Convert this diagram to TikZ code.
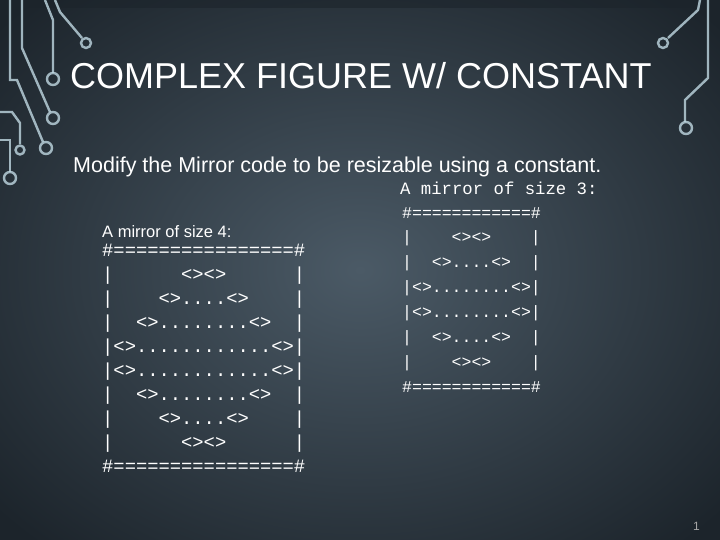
\documentclass[tikz,border=0pt]{standalone}
\usepackage{fontspec}
\setmainfont{Liberation Sans}
\setmonofont{Liberation Mono}
\begin{document}
\begin{tikzpicture}[x=1pt,y=-1pt,
  wire/.style={draw=gray!60!cyan!40!white, line width=2.4pt, opacity=.8},
  pad/.style={draw=gray!60!cyan!40!white, line width=2.4pt, opacity=.8},
  txt/.style={text=white, inner sep=0pt, anchor=base west}]
\useasboundingbox (0,0) rectangle (720,540);
\definecolor{bgc}{HTML}{4B5A66}
\definecolor{bge}{HTML}{1C242B}
\fill[inner color=bgc, outer color=bge] (-120,-100) rectangle (840,640);
\fill[bge, opacity=.6] (0,0) rectangle (720,8);
% circuit left
\draw[wire] (45,0) -- (53,20) -- (53,73);
\draw[pad] (53,79) circle (6);
\draw[wire] (55,0) -- (60,12) -- (82,38);
\draw[pad] (86,43) circle (5);
\draw[wire] (22,0) -- (22,48) -- (50,112);
\draw[pad] (53,118) circle (6);
\draw[wire] (10,0) -- (10,80) -- (17,80) -- (43,142);
\draw[pad] (46,148) circle (6);
\draw[wire] (0,112) -- (12,112) -- (20,123) -- (20,144);
\draw[pad] (20,150) circle (4.5);
\draw[wire] (0,140) -- (10,140) -- (10,172);
\draw[pad] (10,178) circle (6);
% circuit right
\draw[wire] (700,0) -- (698,10) -- (668,38);
\draw[pad] (663,43) circle (5);
\draw[wire] (708,0) -- (708,78) -- (685,100) -- (685,122);
\draw[pad] (686,128) circle (6);
% texts
\node[txt, font=\fontsize{36}{40}\selectfont] (title) at (70,89) {COMPLEX FIGURE W/ CONSTANT};
\node[txt, font=\fontsize{21.5}{24}\selectfont] (intro) at (73,173) {Modify the Mirror code to be resizable using a constant.};
\node[txt, font=\fontsize{17.3}{20}\selectfont\ttfamily] (cap3) at (400,195) {A mirror of size 3:};
\node[txt, font=\fontsize{16.5}{20}\selectfont] (cap4) at (102,237) {A mirror of size 4:};
\node[txt, anchor=north west, align=left, font=\fontsize{18.8}{24}\selectfont\ttfamily] (m4) at (102,244) {%
\#================\#\\
|\ \ \ \ \ \ <><>\ \ \ \ \ \ |\\
|\ \ \ \ <>....<>\ \ \ \ |\\
|\ \ <>........<>\ \ |\\
|<>............<>|\\
|<>............<>|\\
|\ \ <>........<>\ \ |\\
|\ \ \ \ <>....<>\ \ \ \ |\\
|\ \ \ \ \ \ <><>\ \ \ \ \ \ |\\
\#================\#};
\node[txt, anchor=north west, align=left, font=\fontsize{16.5}{24.9}\selectfont\ttfamily] (m3) at (402,207) {%
\#============\#\\
|\ \ \ \ <><>\ \ \ \ |\\
|\ \ <>....<>\ \ |\\
|<>........<>|\\
|<>........<>|\\
|\ \ <>....<>\ \ |\\
|\ \ \ \ <><>\ \ \ \ |\\
\#============\#};
\node[txt, text=gray!70, font=\fontsize{12}{14}\selectfont] (pg) at (693,530) {1};
\end{tikzpicture}
\end{document}
